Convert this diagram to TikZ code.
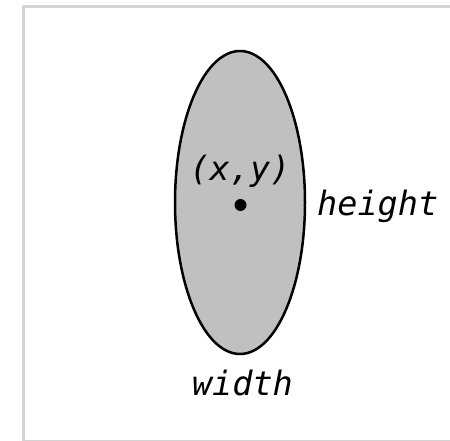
\documentclass[tikz,border=0pt]{standalone}
\usepackage{fontspec}
\setmonofont{DejaVu Sans Mono}
\usetikzlibrary{shapes.geometric}
\definecolor{framegray}{HTML}{D3D3D3}
\definecolor{shapegray}{HTML}{C0C0C0}
\tikzset{
  lbl/.style={inner sep=0pt, font=\fontsize{33.5}{36}\selectfont\ttfamily\itshape},
  oval/.style={ellipse, draw=black, line width=2.5pt, fill=shapegray, inner sep=0pt},
  framebox/.style={draw=framegray, line width=3pt},
}
\begin{document}
\begin{tikzpicture}[x=1pt,y=-1pt]
\useasboundingbox (0,0) rectangle (450,441);
\draw[framebox] (23,6.5) -- (455,6.5);
\draw[framebox] (23,6.5) -- (23,446);
\draw[framebox] (23,441) -- (455,441);
\node[oval, minimum width=130pt, minimum height=303pt] (e) at (240,202.5) {};
\node[circle, fill=black, inner sep=0pt, minimum size=12pt] (c) at (240.5,205) {};
\node[lbl, anchor=base] (xy) at (240,180) {(x,y)};
\node[lbl, anchor=base west] (h) at (317,215) {height};
\node[lbl, anchor=base] (w) at (242.5,395) {width};
\end{tikzpicture}
\end{document}
